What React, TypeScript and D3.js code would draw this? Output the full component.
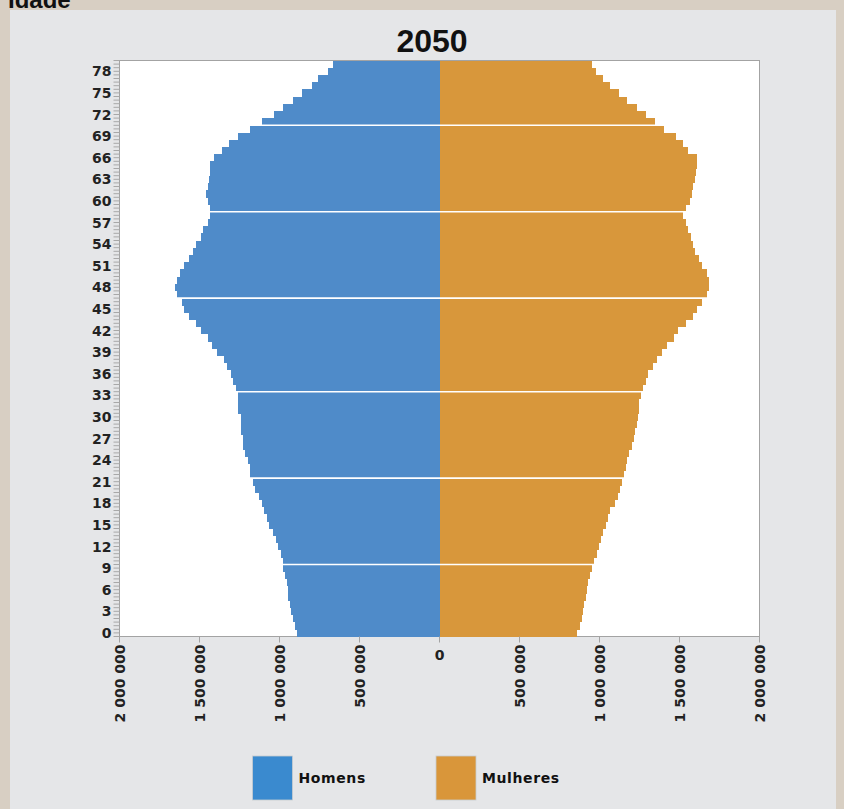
import React from 'react';
import * as d3 from 'd3';

// Ages 0..79 (one bar each)
const ages: number[] = d3.range(0, 80);

// Population (thousands), index = age
const homens: number[] = [
  889, 903, 918, 928, 932, 945, 949, 955, 964, 976,
  980, 993, 1007, 1022, 1039, 1066, 1080, 1097, 1111, 1126,
  1153, 1168, 1184, 1184, 1199, 1214, 1230, 1230, 1243, 1243,
  1243, 1257, 1257, 1257, 1272, 1289, 1303, 1330, 1345, 1389,
  1420, 1449, 1493, 1524, 1564, 1597, 1611, 1643, 1653, 1639,
  1622, 1597, 1566, 1539, 1522, 1493, 1480, 1449, 1434, 1434,
  1449, 1461, 1449, 1439, 1434, 1434, 1407, 1361, 1316, 1257,
  1184, 1111, 1034, 976, 918, 857, 799, 757, 699, 668,
];
const mulheres: number[] = [
  861, 878, 889, 895, 905, 914, 920, 930, 941, 951,
  966, 982, 999, 1009, 1024, 1041, 1055, 1066, 1097, 1114,
  1128, 1139, 1155, 1166, 1174, 1186, 1201, 1216, 1222, 1232,
  1239, 1245, 1245, 1257, 1274, 1289, 1301, 1332, 1361, 1393,
  1420, 1466, 1493, 1539, 1582, 1611, 1643, 1670, 1684, 1684,
  1670, 1643, 1624, 1597, 1582, 1570, 1555, 1539, 1524, 1539,
  1566, 1580, 1586, 1597, 1603, 1611, 1611, 1555, 1524, 1478,
  1403, 1347, 1291, 1232, 1170, 1124, 1066, 1024, 978, 951,
];

const ageTickLabels: number[] = [0, 3, 6, 9, 12, 15, 18, 21, 24, 27, 30, 33, 36, 39, 42, 45, 48, 51, 54, 57, 60, 63, 66, 69, 72, 75, 78];
const valueTicks: number[] = [0, 500000, 1000000, 1500000, 2000000];
// ages whose upper edge carries a white separator line
const separatorAges: number[] = [9, 21, 33, 46, 58, 70];

const legendItems = [
  { label: 'Homens', color: '#3a8acf' },
  { label: 'Mulheres', color: '#d9963a' },
];

const BLUE = '#4f8bc9';
const ORANGE = '#d8973b';

export default function App() {
  const W = 844, H = 809;
  const left = 119.5, right = 759.5, top = 60.5, bottom = 636.5;
  const cx = (left + right) / 2;

  const y = d3.scaleBand<number>().domain(ages).range([bottom, top]).padding(0);
  const xL = d3.scaleLinear().domain([0, 2000000]).range([cx, left]);
  const xR = d3.scaleLinear().domain([0, 2000000]).range([cx, right]);
  const bw = y.bandwidth();

  const fmt = (v: number) => d3.format(',')(v).replace(/,/g, ' ');
  const halfTicks = d3.range(0, 161).map((i) => bottom - (i * bw) / 2);

  const labelFont = '"DejaVu Sans", Verdana, sans-serif';

  return (
    <svg width={W} height={H} style={{ position: 'absolute', left: 0, top: 0 }}>
      <rect x={0} y={0} width={W} height={H} fill="#d8cfc3" />
      <text x={8} y={8} fontFamily='"Liberation Sans", Arial, sans-serif' fontWeight="bold" fontSize={24} fill="#111">Idade</text>
      <rect x={10} y={10} width={826} height={H - 10} fill="#e5e6e8" />

      <text x={432} y={52} textAnchor="middle" fontFamily='"Liberation Sans", Arial, sans-serif' fontWeight="bold" fontSize={32} fill="#111">2050</text>

      <rect x={left} y={top} width={right - left} height={bottom - top} fill="#ffffff" stroke="#a3a3a3" strokeWidth={1} />

      {ages.map((a, i) => (
        <rect key={'m' + a} x={xL(homens[i] * 1000)} y={y(a)!} width={cx - xL(homens[i] * 1000)} height={bw + 0.3} fill={BLUE} shapeRendering="crispEdges" />
      ))}
      {ages.map((a, i) => (
        <rect key={'f' + a} x={cx} y={y(a)!} width={xR(mulheres[i] * 1000) - cx} height={bw + 0.3} fill={ORANGE} shapeRendering="crispEdges" />
      ))}
      {separatorAges.map((a) => (
        <line key={'s' + a} x1={left + 0.5} x2={right - 0.5} y1={y(a)!} y2={y(a)!} stroke="#ffffff" strokeWidth={1.6} />
      ))}

      {/* y axis ticks */}
      {halfTicks.map((t, i) => (
        <line key={'yt' + i} x1={left - 6} x2={left} y1={t} y2={t} stroke="#a8a8a8" strokeWidth={1} />
      ))}
      {ageTickLabels.map((a) => (
        <text key={'yl' + a} x={left - 8} y={y(a)! + bw / 2} dy="0.36em" textAnchor="end" fontFamily={labelFont} fontWeight="bold" fontSize={14} fill="#222">{a}</text>
      ))}

      {/* x axis ticks */}
      {valueTicks.map((v) => (
        <line key={'xl' + v} x1={xL(v)} x2={xL(v)} y1={bottom} y2={bottom + 6} stroke="#a3a3a3" />
      ))}
      {valueTicks.filter((v) => v > 0).map((v) => (
        <line key={'xr' + v} x1={xR(v)} x2={xR(v)} y1={bottom} y2={bottom + 6} stroke="#a3a3a3" />
      ))}
      {valueTicks.map((v) =>
        v === 0 ? (
          <text key={'xlab0'} x={cx} y={660} textAnchor="middle" fontFamily={labelFont} fontWeight="bold" fontSize={14} fill="#222">0</text>
        ) : (
          <text key={'xlabl' + v} transform={`translate(${xL(v)},${bottom + 8}) rotate(-90)`} dy="0.36em" textAnchor="end" fontFamily={labelFont} fontWeight="bold" fontSize={14} fill="#222">{fmt(v)}</text>
        )
      )}
      {valueTicks.filter((v) => v > 0).map((v) => (
        <text key={'xlabr' + v} transform={`translate(${xR(v)},${bottom + 8}) rotate(-90)`} dy="0.36em" textAnchor="end" fontFamily={labelFont} fontWeight="bold" fontSize={14} fill="#222">{fmt(v)}</text>
      ))}

      {/* legend */}
      {legendItems.map((it, i) => (
        <g key={it.label} transform={`translate(${252.5 + i * 183.5},756)`}>
          <rect x={0} y={0} width={40} height={44} fill={it.color} stroke="#c9ccd0" strokeWidth={0.8} />
          <text x={46} y={22} dy="0.36em" fontFamily={labelFont} fontWeight="bold" fontSize={14} letterSpacing={0.6} fill="#111">{it.label}</text>
        </g>
      ))}
    </svg>
  );
}
